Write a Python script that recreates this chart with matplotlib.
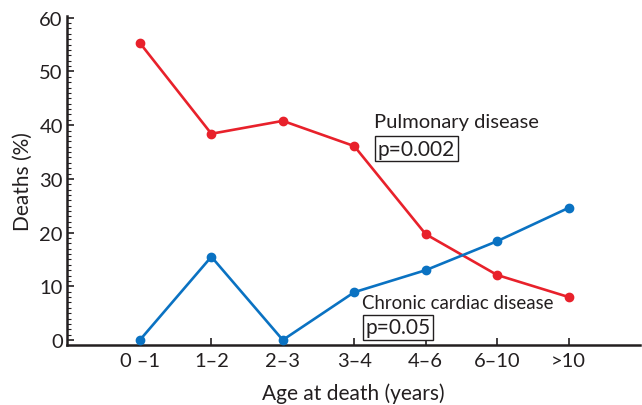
import matplotlib
matplotlib.use("Agg")
import matplotlib.pyplot as plt
from matplotlib.ticker import MultipleLocator

plt.rcParams['font.family'] = ['Lato', 'DejaVu Sans']

# === Data ===
age_groups = ['0 –1', '1–2', '2–3', '3–4', '4–6', '6–10', '>10']
pulmonary = [55.3, 38.4, 40.8, 36.1, 19.7, 12.1, 8.0]
cardiac = [0.0, 15.5, 0.0, 8.9, 13.0, 18.4, 24.6]

red = '#e8212b'
blue = '#0a72c2'
ink = '#231f20'

fig = plt.figure(figsize=(6.42, 4.06), dpi=100)
ax = fig.add_axes([0.1044, 0.1478, 0.8926, 0.81])

x = range(len(age_groups))
ax.plot(x, pulmonary, color=red, lw=1.9, marker='o', ms=6, zorder=3)
ax.plot(x, cardiac, color=blue, lw=1.9, marker='o', ms=6, zorder=3)

ax.set_xlim(-1.02, 7.0)
ax.set_ylim(-0.93, 60.3)

for side in ['top', 'right']:
    ax.spines[side].set_visible(False)
for side in ['left', 'bottom']:
    ax.spines[side].set_linewidth(1.8)
    ax.spines[side].set_color(ink)

ax.set_xticks(list(x))
ax.set_xticklabels(age_groups)
ax.yaxis.set_major_locator(MultipleLocator(10))
ax.yaxis.set_minor_locator(MultipleLocator(1))
ax.tick_params(axis='y', which='major', direction='in', length=5, width=1.2,
               labelsize=14.5, colors=ink, pad=3)
ax.tick_params(axis='y', which='minor', direction='in', length=3, width=0.8, colors=ink)
ax.tick_params(axis='x', which='major', direction='in', length=5, width=1.2,
               labelsize=14.5, colors=ink, pad=5)

ax.set_ylabel('Deaths (%)', fontsize=15, color=ink, labelpad=5)
ax.set_xlabel('Age at death (years)', fontsize=15, color=ink, labelpad=9.5)

box = dict(boxstyle='square,pad=0.12', fc='white', ec=ink, lw=1.0)
ax.text(3.27, 40.6, 'Pulmonary disease', fontsize=14.5, color=ink, va='center', ha='left')
ax.text(3.33, 35.6, 'p=0.002', fontsize=15, color=ink, va='center', ha='left', bbox=box)
ax.text(3.11, 7.0, 'Chronic cardiac disease', fontsize=13.4, color=ink, va='center', ha='left')
ax.text(3.16, 2.4, 'p=0.05', fontsize=15, color=ink, va='center', ha='left', bbox=box)

fig.savefig('out.png', dpi=100)
